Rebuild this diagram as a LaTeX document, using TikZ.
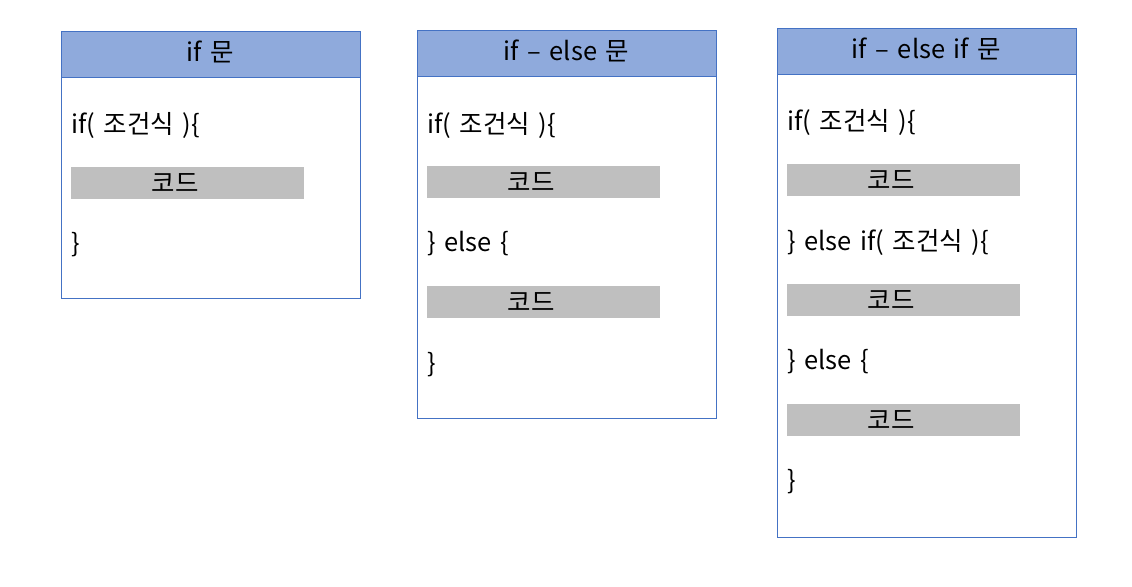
\documentclass[tikz,border=0pt]{standalone}
\usepackage{fontspec}
\setmainfont[WordSpace=1.5]{Noto Sans CJK KR}
\usepackage{xcolor}
\usepackage{tikz}
\usetikzlibrary{positioning}
\definecolor{hdrblue}{HTML}{8FAADC}
\definecolor{edgeblue}{HTML}{4472C4}
\definecolor{codegray}{HTML}{BFBFBF}

\begin{document}
\begin{tikzpicture}[x=0.02cm, y=-0.02cm,
    title/.style={font=\fontsize{14.5}{17}\selectfont, inner sep=0pt},
    codeline/.style={font=\fontsize{14.5}{17}\selectfont, anchor=west, inner sep=0pt},
    codetag/.style={font=\fontsize{14.5}{17}\selectfont, inner sep=0pt}]
  \useasboundingbox (0,0) rectangle (1132,586);
  % three panels: if / if-else / if-else if, units are pixels of the 1132x586 sheet
  \draw[edgeblue] (61,31) rectangle (360,298);
  \draw[edgeblue] (417,30) rectangle (716,418);
  \draw[edgeblue] (777,28) rectangle (1076,537);
  % title bars
  \filldraw[fill=hdrblue, draw=edgeblue] (61,31) rectangle (360,77);
  \filldraw[fill=hdrblue, draw=edgeblue] (417,30) rectangle (716,76);
  \filldraw[fill=hdrblue, draw=edgeblue] (777,28) rectangle (1076,74);
  \node[title] (ifT) at (210.5,52) {if 문};
  \node[title] (elseT) at (566.5,51) {if – else 문};
  \node[title] (elifT) at (926.5,49) {if – else if 문};
  % grey code bars
  \foreach \x/\y/\nm in {71/167/a1, 427/166/b1, 427/286/b2, 787/164/c1, 787/284/c2, 787/404/c3} {
    \fill[codegray] (\x,\y) rectangle ({\x+233},{\y+32});
    \node[codetag] (code\nm) at ({\x+104},{\y+16}) {코드};
  }
  % panel 1
  \node[codeline] (ifA) at (71,125) {if( 조건식 )\{};
  \node[codeline] (ifB) at (71,245) {\}};
  % panel 2
  \node[codeline] (elseA) at (427,125) {if( 조건식 )\{};
  \node[codeline] (elseB) at (427,244) {\} else \{};
  \node[codeline] (elseC) at (427,365) {\}};
  % panel 3
  \node[codeline] (elifA) at (787,122) {if( 조건식 )\{};
  \node[codeline] (elifB) at (787,242) {\} else if( 조건식 )\{};
  \node[codeline] (elifC) at (787,362) {\} else \{};
  \node[codeline] (elifD) at (787,482) {\}};
\end{tikzpicture}
\end{document}
